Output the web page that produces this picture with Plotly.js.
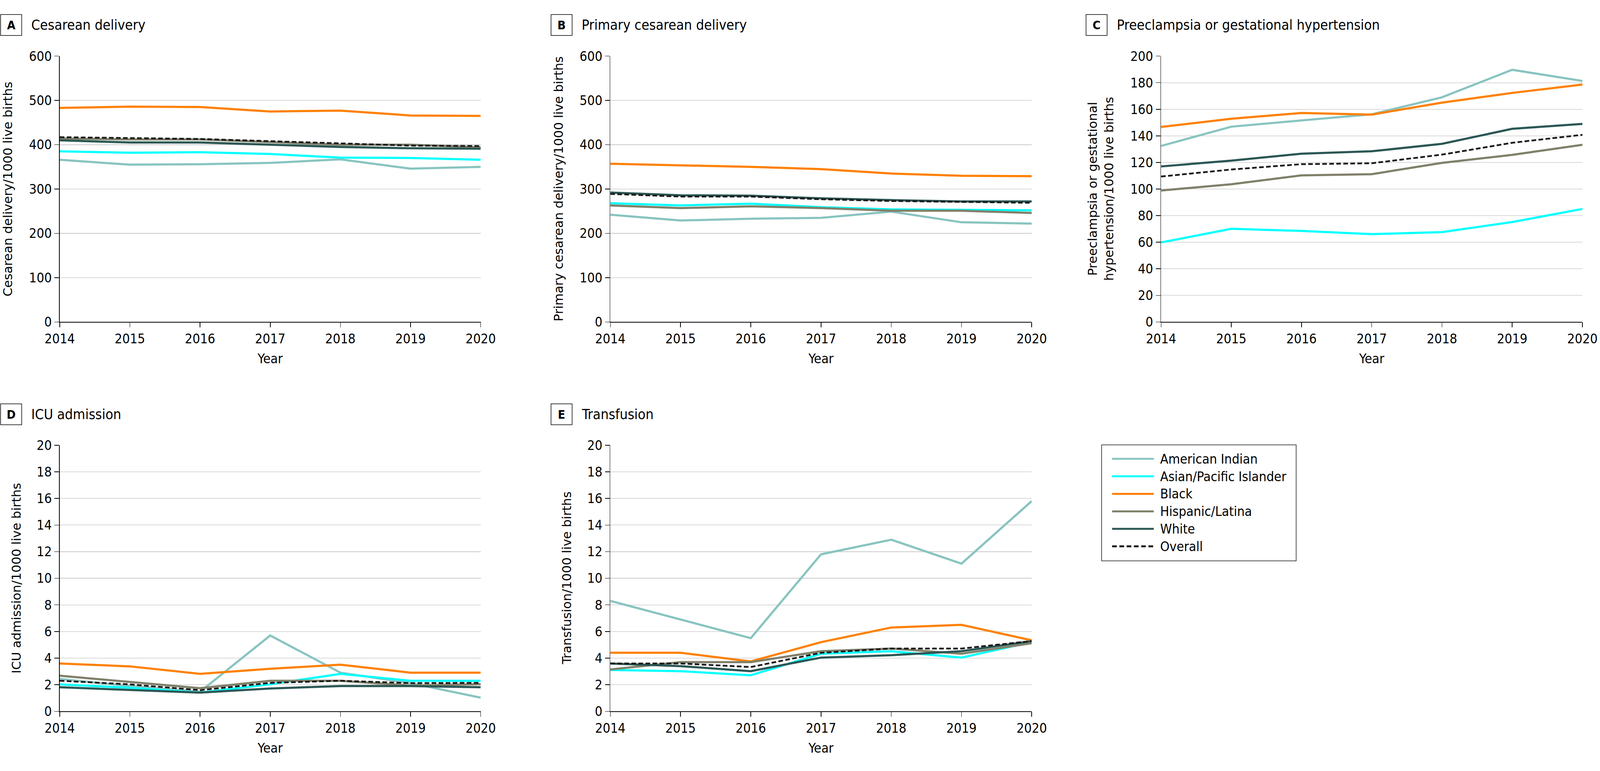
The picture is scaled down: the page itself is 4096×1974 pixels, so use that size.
<!DOCTYPE html>
<html>
<head>
<meta charset="utf-8">
<script src="https://cdn.plot.ly/plotly-3.0.1.min.js"></script>
<style>
  html, body { margin: 0; padding: 0; background: #ffffff; }
  #chart { width: 4096px; height: 1974px; }
</style>
</head>
<body>
<div id="chart"></div>
<script>
// ---------------- DATA ----------------
const years = [2014, 2015, 2016, 2017, 2018, 2019, 2020];
const seriesNames = ["American Indian", "Asian/Pacific Islander", "Black", "Hispanic/Latina", "White", "Overall"];
const seriesColors = ["#88c4c0", "#00ffff", "#ff8000", "#80806a", "#2b5754", "#1a1a1a"];

// Rows follow seriesNames order
const cesareanValues = [
  [366, 355, 356, 359, 367, 346, 350],
  [385, 382, 383, 379, 371, 370, 366],
  [483, 486, 485, 475, 477, 466, 465],
  [414, 412, 412, 406, 400, 400, 394],
  [410, 405, 405, 400, 395, 392, 391],
  [417, 415, 413, 408, 403, 398, 397]
];
const primaryCesareanValues = [
  [242, 229, 233, 235, 249, 225, 222],
  [268, 263, 267, 259, 254, 253, 252],
  [357, 354, 350, 345, 335, 330, 329],
  [263, 257, 261, 257, 251, 251, 246],
  [292, 286, 285, 279, 275, 272, 272],
  [289, 283, 283, 277, 273, 271, 269]
];
const preeclampsiaValues = [
  [132.4, 146.9, 151.6, 156.2, 169.0, 189.7, 181.3],
  [59.8, 70.1, 68.5, 66.1, 67.6, 75.2, 85.0],
  [146.7, 152.9, 157.2, 156.0, 165.0, 172.3, 178.6],
  [98.9, 103.6, 110.3, 111.2, 119.7, 125.7, 133.3],
  [117.0, 121.4, 126.6, 128.4, 134.0, 145.3, 149.0],
  [109.4, 114.7, 118.7, 119.4, 125.9, 134.8, 140.8]
];
const icuValues = [
  [2.44, 1.90, 1.48, 5.70, 2.91, 2.12, 1.03],
  [2.03, 1.77, 1.41, 2.03, 2.82, 2.30, 2.30],
  [3.60, 3.38, 2.82, 3.20, 3.51, 2.91, 2.91],
  [2.68, 2.21, 1.74, 2.30, 2.30, 1.94, 2.04],
  [1.81, 1.59, 1.41, 1.72, 1.90, 1.90, 1.81],
  [2.30, 2.03, 1.59, 2.14, 2.30, 2.12, 2.14]
];
const transfusionValues = [
  [8.30, 6.90, 5.50, 11.80, 12.90, 11.10, 15.80],
  [3.11, 3.02, 2.71, 4.33, 4.52, 4.04, 5.21],
  [4.40, 4.40, 3.75, 5.20, 6.30, 6.50, 5.34],
  [3.15, 3.70, 3.70, 4.52, 4.72, 4.33, 5.12],
  [3.60, 3.40, 3.02, 4.04, 4.22, 4.52, 5.28],
  [3.60, 3.60, 3.33, 4.40, 4.72, 4.72, 5.28]
];

const panelLetters = ["A", "B", "C", "D", "E"];
const panelTitles = ["Cesarean delivery", "Primary cesarean delivery", "Preeclampsia or gestational hypertension", "ICU admission", "Transfusion"];
const yTitles = ["Cesarean delivery/1000 live births", "Primary cesarean delivery/1000 live births",
                 "Preeclampsia or gestational<br>hypertension/1000 live births", "ICU admission/1000 live births",
                 "Transfusion/1000 live births"];
const yMax = [600, 600, 200, 20, 20];
const yStep = [100, 100, 20, 2, 2];

// ---------------- LAYOUT HELPERS ----------------
const W = 4096, H = 1974;
const px = v => v / W;
const py = v => 1 - v / H;

const condensed = "DejaVu Sans Condensed, DejaVu Sans, sans-serif";
const sans = "DejaVu Sans, Verdana, sans-serif";

// plot areas in window pixels [left, right, top, bottom]
const areas = [
  [152.9, 1230.6, 143.6, 824.4],
  [1562.4, 2641.2, 143.6, 824.4],
  [2972.3, 4051.0, 143.6, 824.4],
  [152.9, 1230.6, 1139.8, 1821.3],
  [1562.4, 2641.2, 1139.8, 1821.3]
];
const yTitleX = [20, 1430, 2818, 42, 1451];
const boxLeft = [1.5, 1410.6, 2780.3, 1.5, 1410.6];
const boxTop = [37.2, 37.2, 37.2, 1034.0, 1034.0];
const titleLeft = [78, 1487.3, 2857, 78, 1487.3];

const allValues = [cesareanValues, primaryCesareanValues, preeclampsiaValues, icuValues, transfusionValues];

const traces = [];
const layout = {
  width: W, height: H,
  margin: {l: 0, r: 0, t: 0, b: 0},
  paper_bgcolor: "#ffffff",
  plot_bgcolor: "#ffffff",
  showlegend: false,
  shapes: [],
  annotations: []
};

allValues.forEach((panel, p) => {
  const suffix = p === 0 ? "" : String(p + 1);
  const xa = "x" + suffix, ya = "y" + suffix;
  panel.forEach((vals, s) => {
    traces.push({
      type: "scatter", mode: "lines",
      x: years, y: vals,
      xaxis: xa, yaxis: ya,
      name: seriesNames[s],
      line: {color: seriesColors[s], width: s === 5 ? 4.5 : 5.5, dash: s === 5 ? "12px,6px" : "solid"},
      hoverinfo: "skip"
    });
  });
  const [l, r, t, b] = areas[p];
  layout["xaxis" + suffix] = {
    domain: [px(l), px(r)], anchor: ya,
    range: [2014, 2020], tickvals: years, ticktext: years.map(String),
    showgrid: false, zeroline: false,
    showline: true, linecolor: "#000000", linewidth: 1.5,
    ticks: "outside", ticklen: 12, tickwidth: 1.5, tickcolor: "#000000",
    tickfont: {family: condensed, size: 34, color: "#000000"},
    title: {text: "Year", font: {family: condensed, size: 34, color: "#000000"}, standoff: 20},
    fixedrange: true
  };
  const tv = [];
  for (let v = 0; v <= yMax[p] + 1e-9; v += yStep[p]) tv.push(+v.toFixed(4));
  layout["yaxis" + suffix] = {
    domain: [py(b), py(t)], anchor: xa,
    range: [0, yMax[p]], tickvals: tv,
    showgrid: true, gridcolor: "#d9d9d9", gridwidth: 2.2,
    zeroline: false,
    showline: true, linecolor: "#000000", linewidth: 1.5,
    ticks: "outside", ticklen: 12, tickwidth: 1.5, tickcolor: "#000000",
    tickfont: {family: condensed, size: 34, color: "#000000"},
    fixedrange: true
  };
  // y-axis title as rotated text
  layout.annotations.push({
    xref: "paper", yref: "paper",
    x: px(yTitleX[p]), y: py((t + b) / 2),
    xanchor: "center", yanchor: "middle",
    text: yTitles[p], textangle: -90, showarrow: false,
    font: {family: sans, size: 32, color: "#000000"}
  });
  // panel letter box
  const bw = 54, bh = 53.5;
  layout.shapes.push({
    type: "rect", xref: "paper", yref: "paper",
    x0: px(boxLeft[p]), x1: px(boxLeft[p] + bw),
    y0: py(boxTop[p] + bh), y1: py(boxTop[p]),
    line: {color: "#000000", width: 1.5}, fillcolor: "rgba(0,0,0,0)"
  });
  layout.annotations.push({
    xref: "paper", yref: "paper",
    x: px(boxLeft[p] + bw / 2), y: py(boxTop[p] + bh / 2),
    xanchor: "center", yanchor: "middle",
    text: "<b>" + panelLetters[p] + "</b>", showarrow: false,
    font: {family: condensed, size: 31, color: "#000000"}
  });
  layout.annotations.push({
    xref: "paper", yref: "paper",
    x: px(titleLeft[p]), y: py(boxTop[p] + bh / 2),
    xanchor: "left", yanchor: "middle",
    text: panelTitles[p], showarrow: false,
    font: {family: condensed, size: 36, color: "#000000"}
  });
});

// ---------------- LEGEND (built from series arrays) ----------------
const legBox = [2820.2, 3318.2, 1139.0, 1436.0];
layout.shapes.push({
  type: "rect", xref: "paper", yref: "paper",
  x0: px(legBox[0]), x1: px(legBox[1]), y0: py(legBox[3]), y1: py(legBox[2]),
  line: {color: "#1a1a1a", width: 1.5}, fillcolor: "rgba(0,0,0,0)"
});
const legRow0 = 1174.8, legStep = 44.8;
seriesNames.forEach((name, s) => {
  const yy = legRow0 + s * legStep;
  layout.shapes.push({
    type: "line", xref: "paper", yref: "paper",
    x0: px(2847), x1: px(2953.7), y0: py(yy), y1: py(yy),
    line: {color: seriesColors[s], width: 5, dash: s === 5 ? "12px,6.6px" : "solid"}
  });
  layout.annotations.push({
    xref: "paper", yref: "paper",
    x: px(2968), y: py(yy),
    xanchor: "left", yanchor: "middle",
    text: name, showarrow: false,
    font: {family: condensed, size: 34, color: "#000000"}
  });
});

Plotly.newPlot("chart", traces, layout, {staticPlot: true, displayModeBar: false});
</script>
</body>
</html>
